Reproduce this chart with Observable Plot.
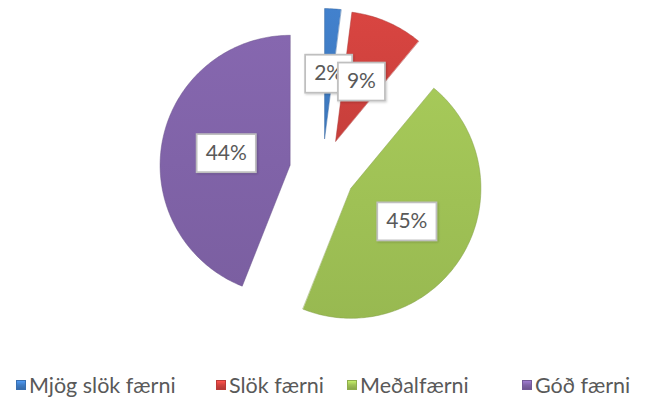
<!DOCTYPE html>
<html>
<head>
<meta charset="utf-8">
<script src="https://cdn.jsdelivr.net/npm/d3@7"></script>
<script src="https://cdn.jsdelivr.net/npm/@observablehq/plot@0.6"></script>
<style>
  html, body { margin: 0; padding: 0; background: #fff; }
  #wrap { width: 646px; height: 403px; position: relative; overflow: hidden; }
  #legend { position: absolute; left: 0; top: 360px; width: 646px; height: 43px; font-family: Lato, "Noto Sans", sans-serif; font-size: 21.5px; color: #595959; }
  .item { position: absolute; top: 12px; display: flex; align-items: center; white-space: nowrap; }
  .sw { width: 10px; height: 10px; margin-right: 3px; box-sizing: border-box; }
</style>
</head>
<body>
<div id="wrap">
  <div id="chart"></div>
  <div id="legend"></div>
</div>
<script>
const categories = ["Mjög slök færni", "Slök færni", "Meðalfærni", "Góð færni"];
const values = [2, 9, 45, 44];
const labels = ["2%", "9%", "45%", "44%"];
const colors = ["#3F7CC4", "#D0423E", "#9FC155", "#8063A8"];

const W = 646, H = 360;
const cx = 322, cy = 171, R = 130;   // layout: pie centre and radius in pixels
const explode = 33 / R;               // explosion as a fraction of radius

const total = d3.sum(values);
let acc = 0;
const slices = [];
const labelData = [];
values.forEach((v, i) => {
  const a0 = acc / total * 2 * Math.PI;
  acc += v;
  const a1 = acc / total * 2 * Math.PI;
  const am = (a0 + a1) / 2;
  const ox = explode * Math.sin(am), oy = explode * Math.cos(am);
  const pts = [{x: ox, y: oy, k: i}];
  const n = Math.max(4, Math.ceil((a1 - a0) / 0.02));
  for (let j = 0; j <= n; j++) {
    const a = a0 + (a1 - a0) * j / n;
    pts.push({x: ox + Math.sin(a), y: oy + Math.cos(a), k: i});
  }
  slices.push(pts);
  labelData.push({x: ox + 0.5 * Math.sin(am), y: oy + 0.5 * Math.cos(am), label: labels[i]});
});

const gid = i => `sliceGrad${i}`;
const defs = () => {
  const ns = "http://www.w3.org/2000/svg";
  const d = document.createElementNS(ns, "defs");
  colors.forEach((c, i) => {
    const g = document.createElementNS(ns, "linearGradient");
    g.setAttribute("id", gid(i));
    g.setAttribute("x1", "0"); g.setAttribute("y1", "0");
    g.setAttribute("x2", "0"); g.setAttribute("y2", "1");
    const stops = [[0, d3.color(c).brighter(0.12)], [0.5, d3.color(c)], [1, d3.color(c).darker(0.12)]];
    stops.forEach(([o, col]) => {
      const s = document.createElementNS(ns, "stop");
      s.setAttribute("offset", o);
      s.setAttribute("stop-color", col.formatHex());
      g.appendChild(s);
    });
    d.appendChild(g);
  });
  const f = document.createElementNS(ns, "filter");
  f.setAttribute("id", "shadow");
  f.setAttribute("x", "-20%"); f.setAttribute("y", "-20%");
  f.setAttribute("width", "140%"); f.setAttribute("height", "140%");
  f.innerHTML = '<feDropShadow dx="2" dy="3" stdDeviation="3" flood-color="#000" flood-opacity="0.3"/>';
  d.appendChild(f);
  const f2 = document.createElementNS(ns, "filter");
  f2.setAttribute("id", "boxshadow");
  f2.setAttribute("x", "-20%"); f2.setAttribute("y", "-20%");
  f2.setAttribute("width", "140%"); f2.setAttribute("height", "140%");
  f2.innerHTML = '<feDropShadow dx="1" dy="1" stdDeviation="1" flood-color="#000" flood-opacity="0.2"/>';
  d.appendChild(f2);
  return d;
};

const FONT_SIZE = 21, FONT = "Lato";
const boxed = (index, scales, vals, dims, context, next) => {
  const g = next(index, scales, vals, dims, context);
  const ctx = document.createElement("canvas").getContext("2d");
  ctx.font = `${FONT_SIZE}px ${FONT}`;
  const texts = Array.from(g.querySelectorAll("text"));
  texts.forEach((t, j) => {
    const i = index[j];
    const w = ctx.measureText(labelData[i].label).width + 18;
    const h = 38;
    const r = document.createElementNS("http://www.w3.org/2000/svg", "rect");
    r.setAttribute("x", vals.x[i] - w / 2);
    r.setAttribute("y", vals.y[i] - h / 2);
    r.setAttribute("width", w);
    r.setAttribute("height", h);
    r.setAttribute("fill", "#fff");
    r.setAttribute("stroke", "#bfbfbf");
    r.setAttribute("stroke-width", 1.75);
    r.setAttribute("filter", "url(#boxshadow)");
    t.parentNode.insertBefore(r, t);
  });
  return g;
};

const marks = [defs];
slices.forEach((pts, i) => {
  marks.push(Plot.line(pts, {
    x: "x", y: "y", curve: "linear-closed",
    fill: `url(#${gid(i)})`,
    stroke: d3.color(colors[i]).darker(0.6).formatHex(),
    strokeWidth: 0.8,
    strokeOpacity: 0.6,
    style: "filter: url(#shadow)"
  }));
});
marks.push(Plot.text(labelData, {
  x: "x", y: "y", text: "label",
  fontSize: FONT_SIZE, fontFamily: FONT, fill: "#595959",
  render: boxed
}));

const chart = Plot.plot({
  width: W, height: H,
  margin: 0,
  x: {domain: [-cx / R, (W - cx) / R], axis: null},
  y: {domain: [(cy - H) / R, cy / R], axis: null},
  marks
});
chart.style.fontFamily = FONT;
document.getElementById("chart").appendChild(chart);

// Legend
const legendLeft = [16, 216, 347, 522];
const legend = document.getElementById("legend");
categories.forEach((c, i) => {
  const it = document.createElement("div");
  it.className = "item";
  it.style.left = legendLeft[i] + "px";
  const sw = document.createElement("span");
  sw.className = "sw";
  const col = d3.color(colors[i]);
  sw.style.background = `linear-gradient(${col.brighter(0.6).formatHex()}, ${col.formatHex()} 50%, ${col.darker(0.4).formatHex()})`;
  sw.style.border = `1px solid ${col.darker(0.3).formatHex()}`;
  const tx = document.createElement("span");
  tx.textContent = c;
  it.appendChild(sw);
  it.appendChild(tx);
  legend.appendChild(it);
});
</script>
</body>
</html>
